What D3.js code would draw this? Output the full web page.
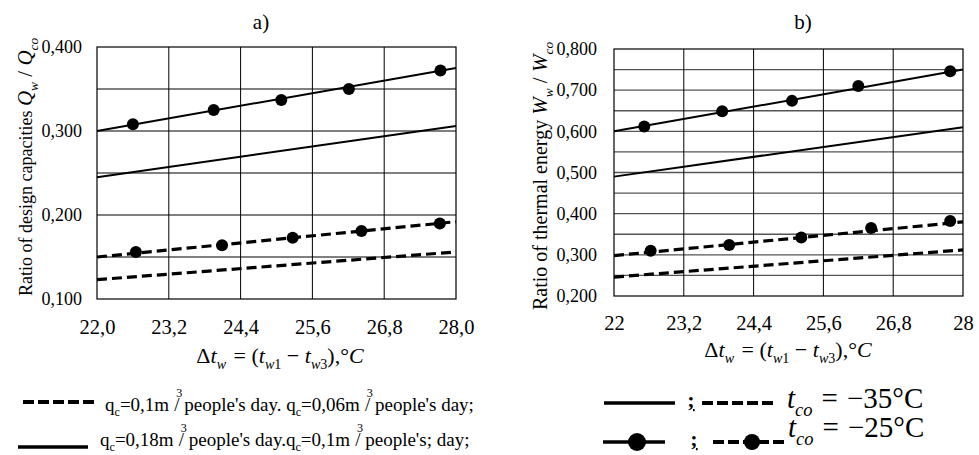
<!DOCTYPE html>
<html>
<head>
<meta charset="utf-8">
<script src="https://cdn.jsdelivr.net/npm/d3@7"></script>
<style>
  body { margin: 0; background: #fff; }
</style>
</head>
<body>
<div id="graph"></div>
<script>
// ---- data ----
var xTicks = [22.0, 23.2, 24.4, 25.6, 26.8, 28.0];
var xLabelsA = ["22,0", "23,2", "24,4", "25,6", "26,8", "28,0"];
var xLabelsB = ["22", "23,2", "24,4", "25,6", "26,8", "28"];

var yTicksA = [0.1, 0.2, 0.3, 0.4];
var yLabelsA = ["0,100", "0,200", "0,300", "0,400"];
var gridYA = [0.15, 0.2, 0.25, 0.3, 0.35];

var yTicksB = [0.2, 0.3, 0.4, 0.5, 0.6, 0.7, 0.8];
var yLabelsB = ["0,200", "0,300", "0,400", "0,500", "0,600", "0,700", "0,800"];
var gridYB = [0.25, 0.3, 0.35, 0.4, 0.45, 0.5, 0.55, 0.6, 0.65, 0.7, 0.75];

// straight lines, values at x = 22 and x = 28
var lineX = [22, 28];
var aSolid35 = [0.245, 0.306];
var aDash35  = [0.123, 0.156];
var aSolid25 = [0.300, 0.375];
var aDash25  = [0.150, 0.192];
var bSolid35 = [0.490, 0.610];
var bDash35  = [0.246, 0.312];
var bSolid25 = [0.600, 0.750];
var bDash25  = [0.298, 0.380];

// markers (t_co = -25 C)
var aSolidMarkX = [22.60, 23.95, 25.08, 26.21, 27.74];
var aSolidMarkY = [0.308, 0.325, 0.337, 0.350, 0.372];
var aDashMarkX  = [22.65, 24.09, 25.27, 26.42, 27.73];
var aDashMarkY  = [0.156, 0.164, 0.173, 0.181, 0.190];
var bSolidMarkX = [22.52, 23.86, 25.06, 26.20, 27.78];
var bSolidMarkY = [0.612, 0.649, 0.674, 0.710, 0.746];
var bDashMarkX  = [22.63, 23.98, 25.22, 26.42, 27.78];
var bDashMarkY  = [0.310, 0.324, 0.342, 0.365, 0.382];

var width = 979, height = 455;
var FS_XT = 20.5, FS_YT = 18;
var SERIF = "'Liberation Serif', 'Times New Roman', Times, serif";

var svg = d3.select("#graph").append("svg")
    .attr("width", width)
    .attr("height", height)
    .attr("font-family", SERIF);

// writes mixed text (italic / sub / sup) as tspans
function rich(text, parts, size) {
  var cur = 0;
  text.attr("font-family", SERIF);
  parts.forEach(function(p) {
    var fs = p.s || size, shift = 0;
    if (p.sub) { fs = fs * 0.64; shift = (p.s || size) * 0.28; }
    if (p.sup) { fs = fs * 0.64; shift = -(p.s || size) * 0.72; }
    var ts = text.append("tspan").text(p.t).attr("font-size", fs);
    if (p.i) ts.attr("font-style", "italic");
    if (shift - cur !== 0) ts.attr("dy", shift - cur);
    if (p.dx) ts.attr("dx", p.dx);
    cur = shift;
  });
  return text;
}

var dtParts = [
  {t: "Δ"}, {t: "t", i: 1}, {t: "w", i: 1, sub: 1}, {t: " = (", dx: 2},
  {t: "t", i: 1}, {t: "w", i: 1, sub: 1}, {t: "1", sub: 1}, {t: " − "},
  {t: "t", i: 1}, {t: "w", i: 1, sub: 1}, {t: "3", sub: 1}, {t: "),°"}, {t: "C", i: 1}
];

function drawPanel(cfg) {
  var x = d3.scaleLinear().domain([22, 28]).range([cfg.left, cfg.right]);
  var y = d3.scaleLinear().domain(cfg.yDomain).range([cfg.bottom, cfg.top]);
  var g = svg.append("g");

  // horizontal grid
  g.selectAll(".hgrid").data(cfg.gridY).enter().append("line")
    .attr("x1", cfg.left).attr("x2", cfg.right)
    .attr("y1", function(d) { return y(d); }).attr("y2", function(d) { return y(d); })
    .attr("stroke", cfg.hColor).attr("stroke-width", cfg.hWidth);
  // vertical grid
  g.selectAll(".vgrid").data(xTicks.slice(1, -1)).enter().append("line")
    .attr("y1", cfg.top).attr("y2", cfg.bottom)
    .attr("x1", function(d) { return x(d); }).attr("x2", function(d) { return x(d); })
    .attr("stroke", "#000").attr("stroke-width", 1);
  // frame
  g.append("rect")
    .attr("x", cfg.left).attr("y", cfg.top)
    .attr("width", cfg.right - cfg.left).attr("height", cfg.bottom - cfg.top)
    .attr("fill", "none").attr("stroke", "#000").attr("stroke-width", 1.2);

  // axes
  var xa = g.append("g").attr("transform", "translate(0," + cfg.bottom + ")")
    .call(d3.axisBottom(x).tickValues(xTicks).tickSize(0)
      .tickFormat(function(d, i) { return cfg.xLabels[i]; }));
  xa.attr("font-family", SERIF).attr("font-size", FS_XT);
  xa.select(".domain").remove();
  xa.selectAll("text").attr("dy", null).attr("y", cfg.xLabelBase - cfg.bottom);

  var ya = g.append("g").attr("transform", "translate(" + cfg.left + ",0)")
    .call(d3.axisLeft(y).tickValues(cfg.yTicks).tickSize(0).tickPadding(cfg.yPad)
      .tickFormat(function(d, i) { return cfg.yLabels[i]; }));
  ya.attr("font-family", SERIF).attr("font-size", FS_YT);
  ya.select(".domain").remove();

  // series lines
  var line = d3.line()
    .x(function(d) { return x(d[0]); })
    .y(function(d) { return y(d[1]); });
  cfg.series.forEach(function(s) {
    g.append("path")
      .datum(d3.zip(lineX, s.v))
      .attr("d", line)
      .attr("fill", "none")
      .attr("stroke", "#000")
      .attr("stroke-width", s.dash ? 3.2 : 2)
      .attr("stroke-dasharray", s.dash ? "10,5" : null);
  });
  cfg.marks.forEach(function(m) {
    g.selectAll(null).data(d3.zip(m.x, m.y)).enter().append("circle")
      .attr("cx", function(d) { return x(d[0]); })
      .attr("cy", function(d) { return y(d[1]); })
      .attr("r", 6)
      .attr("fill", "#000");
  });

  // panel letter
  svg.append("text").attr("x", cfg.titleX).attr("y", 29)
    .attr("text-anchor", "middle").attr("font-size", 21)
    .attr("font-family", SERIF).text(cfg.letter);

  // x title
  rich(svg.append("text").attr("x", cfg.xTitleX).attr("y", cfg.xTitleY)
    .attr("text-anchor", "middle"), dtParts, 22);

  // y title
  rich(svg.append("text")
    .attr("transform", "translate(" + cfg.yTitleX + "," + cfg.yTitleY + ") rotate(-90)")
    .attr("text-anchor", "start"), cfg.yTitle, cfg.yTitleSize);
}

drawPanel({
  letter: "a)", titleX: 261,
  left: 97, right: 456, top: 47, bottom: 299,
  yDomain: [0.1, 0.4], yTicks: yTicksA, yLabels: yLabelsA, gridY: gridYA,
  xLabels: xLabelsA, xLabelBase: 334, yPad: 15,
  hColor: "#000", hWidth: 1,
  xTitleX: 280, xTitleY: 363,
  yTitleX: 32, yTitleY: 296, yTitleSize: 18,
  yTitle: [{t: "Ratio of design capacities  "}, {t: "Q", i: 1, s: 21}, {t: "w", i: 1, sub: 1, s: 21},
           {t: " / ", s: 21}, {t: "Q", i: 1, s: 21}, {t: "co", i: 1, sub: 1, s: 21}],
  series: [{v: aSolid35}, {v: aDash35, dash: 1}, {v: aSolid25}, {v: aDash25, dash: 1}],
  marks: [{x: aSolidMarkX, y: aSolidMarkY}, {x: aDashMarkX, y: aDashMarkY}]
});

drawPanel({
  letter: "b)", titleX: 803,
  left: 614, right: 963, top: 49, bottom: 296,
  yDomain: [0.2, 0.8], yTicks: yTicksB, yLabels: yLabelsB, gridY: gridYB,
  xLabels: xLabelsB, xLabelBase: 330, yPad: 17,
  hColor: "#555", hWidth: 1.4,
  xTitleX: 788, xTitleY: 357,
  yTitleX: 547, yTitleY: 310, yTitleSize: 20,
  yTitle: [{t: "Ratio of thermal  energy "}, {t: "W", i: 1, s: 21}, {t: "w", i: 1, sub: 1, s: 21},
           {t: " / ", s: 21}, {t: "W", i: 1, s: 21}, {t: "co", i: 1, sub: 1, s: 21}],
  series: [{v: bSolid35}, {v: bDash35, dash: 1}, {v: bSolid25}, {v: bDash25, dash: 1}],
  marks: [{x: bSolidMarkX, y: bSolidMarkY}, {x: bDashMarkX, y: bDashMarkY}]
});

// ---- legend ----
var leg = svg.append("g");
function sample(x1, x2, yy, dash, w, markX, r) {
  leg.append("line").attr("x1", x1).attr("x2", x2).attr("y1", yy).attr("y2", yy)
    .attr("stroke", "#000").attr("stroke-width", w)
    .attr("stroke-dasharray", dash ? "11,4" : null);
  if (markX) leg.append("circle").attr("cx", markX).attr("cy", yy).attr("r", r).attr("fill", "#000");
}

sample(23, 94, 402, true, 4);
rich(leg.append("text").attr("x", 105).attr("y", 411), [
  {t: "q"}, {t: "c", sub: 1}, {t: "=0,1m"}, {t: "3", sup: 1, dx: 7}, {t: "/ people's day. q", dx: -8},
  {t: "c", sub: 1}, {t: "=0,06m"}, {t: "3", sup: 1, dx: 7}, {t: "/ people's day;", dx: -8}
], 19);

sample(18, 88, 447, false, 3.5);
rich(leg.append("text").attr("x", 100).attr("y", 446), [
  {t: "q"}, {t: "c", sub: 1}, {t: "=0,18m"}, {t: "3", sup: 1, dx: 7}, {t: "/ people's day.q", dx: -8},
  {t: "c", sub: 1}, {t: "=0,1m"}, {t: "3", sup: 1, dx: 7}, {t: "/ people's; day;", dx: -8}
], 19);

sample(604, 675, 403, false, 3.5);
leg.append("text").attr("x", 691).attr("y", 407).attr("text-anchor", "middle")
  .attr("font-size", 22).attr("font-weight", "bold").attr("text-decoration", "underline").text(";");
sample(702, 777, 403, true, 4);
rich(leg.append("text").attr("x", 787).attr("y", 408), [
  {t: "t", i: 1}, {t: "co", i: 1, sub: 1}, {t: "=", dx: 9}, {t: "−35°C", dx: 9}
], 29);

sample(603, 665, 442, false, 3.5, 637, 9);
leg.append("text").attr("x", 694).attr("y", 446).attr("text-anchor", "middle")
  .attr("font-size", 22).attr("font-weight", "bold").attr("text-decoration", "underline").text(";");
sample(713, 788, 442, true, 4, 752, 8);
rich(leg.append("text").attr("x", 788).attr("y", 437), [
  {t: "t", i: 1}, {t: "co", i: 1, sub: 1}, {t: "=", dx: 9}, {t: "−25°C", dx: 9}
], 29);
</script>
</body>
</html>
